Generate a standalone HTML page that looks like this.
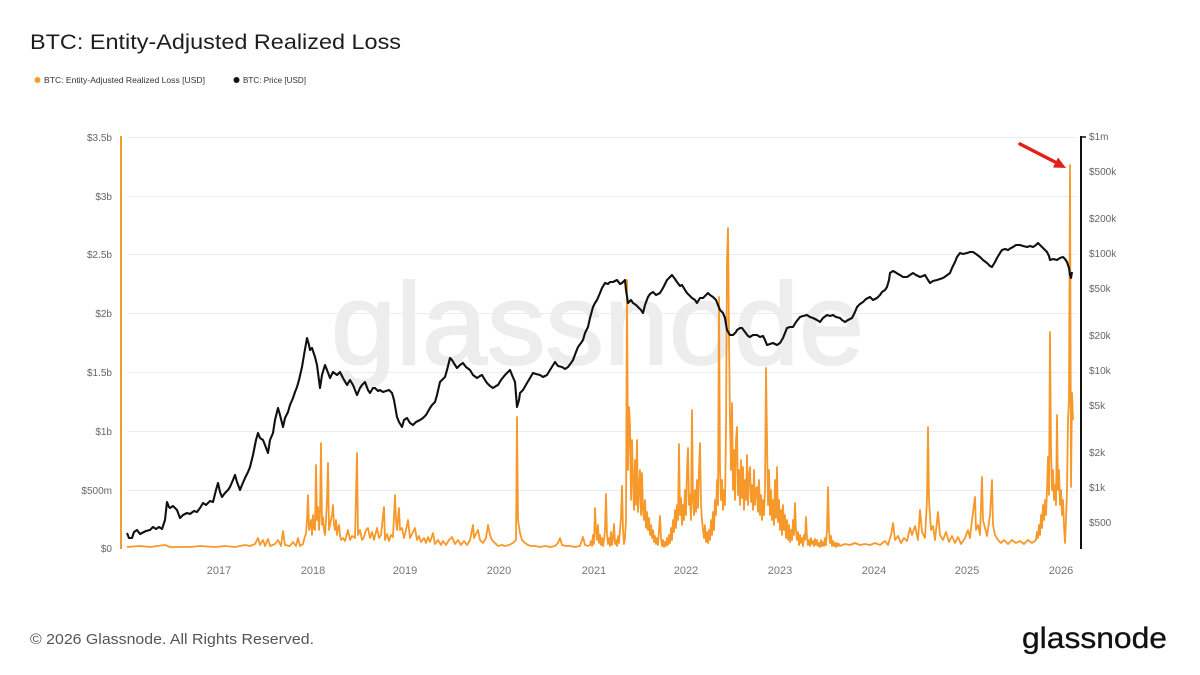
<!DOCTYPE html>
<html><head><meta charset="utf-8"><style>
html,body{margin:0;padding:0;background:#fff;}
svg{display:block;}
text{font-family:"Liberation Sans",sans-serif;}
</style></head><body>
<svg width="1200" height="675" viewBox="0 0 1200 675" xmlns="http://www.w3.org/2000/svg">
<rect width="1200" height="675" fill="#fff"/>
<text x="30" y="49" font-size="21" fill="#1e1e1e" textLength="371" lengthAdjust="spacingAndGlyphs">BTC: Entity-Adjusted Realized Loss</text>
<circle cx="37.5" cy="80" r="3" fill="#f39c2b"/>
<text x="44" y="83" font-size="8.5" fill="#333" textLength="161" lengthAdjust="spacingAndGlyphs">BTC: Entity-Adjusted Realized Loss [USD]</text>
<circle cx="236.5" cy="80" r="3" fill="#111"/>
<text x="243" y="83" font-size="8.5" fill="#333" textLength="63" lengthAdjust="spacingAndGlyphs">BTC: Price [USD]</text>

<!-- watermark -->
<text x="331" y="364" font-size="116" fill="#ededed" stroke="#ededed" stroke-width="2" stroke-linejoin="round" textLength="533" lengthAdjust="spacingAndGlyphs">glassnode</text>

<!-- gridlines -->
<g stroke="#e6edf3" stroke-width="1">
<line x1="127" y1="137.5" x2="1076" y2="137.5"/>
<line x1="127" y1="196.5" x2="1076" y2="196.5"/>
<line x1="127" y1="254.5" x2="1076" y2="254.5"/>
<line x1="127" y1="313.5" x2="1076" y2="313.5"/>
<line x1="127" y1="372.5" x2="1076" y2="372.5"/>
<line x1="127" y1="431.5" x2="1076" y2="431.5"/>
<line x1="127" y1="490.5" x2="1076" y2="490.5"/>
</g>

<!-- left axis labels -->
<g font-size="10" fill="#666" text-anchor="end">
<text x="112" y="141">$3.5b</text>
<text x="112" y="200">$3b</text>
<text x="112" y="258">$2.5b</text>
<text x="112" y="317">$2b</text>
<text x="112" y="376">$1.5b</text>
<text x="112" y="435">$1b</text>
<text x="112" y="494">$500m</text>
<text x="112" y="552">$0</text>
</g>
<!-- right axis labels -->
<g font-size="10" fill="#666">
<text x="1089" y="140">$1m</text>
<text x="1089" y="175">$500k</text>
<text x="1089" y="222">$200k</text>
<text x="1089" y="257">$100k</text>
<text x="1089" y="292">$50k</text>
<text x="1089" y="339">$20k</text>
<text x="1089" y="374">$10k</text>
<text x="1089" y="409">$5k</text>
<text x="1089" y="456">$2k</text>
<text x="1089" y="491">$1k</text>
<text x="1089" y="526">$500</text>
</g>
<!-- x labels -->
<g font-size="11" fill="#777" text-anchor="middle">
<text x="219" y="574">2017</text>
<text x="313" y="574">2018</text>
<text x="405" y="574">2019</text>
<text x="499" y="574">2020</text>
<text x="594" y="574">2021</text>
<text x="686" y="574">2022</text>
<text x="780" y="574">2023</text>
<text x="874" y="574">2024</text>
<text x="967" y="574">2025</text>
<text x="1061" y="574">2026</text>
</g>

<!-- axes -->
<line x1="121" y1="136" x2="121" y2="549" stroke="#f39c2b" stroke-width="2"/>
<line x1="1081" y1="136" x2="1081" y2="549" stroke="#111" stroke-width="2"/>
<line x1="1081" y1="137" x2="1086" y2="137" stroke="#111" stroke-width="1.5"/>

<!-- orange series -->
<polyline fill="none" stroke="#f7982a" stroke-width="1.8" stroke-linejoin="round" points="127,547 140,546 150,547 165,545 170,547 190,547 200,546 215,547 225,546 235,547 245,545 250,546 255,544 258,538 260,545 263,540 265,546 268,539 270,546 275,544 278,540 281,546 283,531 285,545 290,546 293,542 296,546 298,538 300,546 303,544 304,540 305,536 306,534 307,520 308,495 309,530 310,525 311,520 312,535 313,515 314,528 315,530 316,465 317,520 318,507 319,530 320,512 321,443 322,525 323,517 324,530 325,535 326,520 327,500 328,463 329,530 330,525 331,520 332,515 333,505 334,525 335,530 336,520 337,535 338,528 339,525 340,535 341,540 343,538 345,541 348,530 350,540 352,536 355,538 357,453 358,535 360,530 362,540 364,537 366,530 368,528 370,538 372,532 374,540 377,528 379,538 381,535 384,507 385,540 387,534 389,541 391,535 393,537 395,495 396,520 397,530 399,508 400,530 402,528 404,538 406,530 408,520 410,538 412,534 415,528 417,540 419,536 421,542 424,538 426,543 428,537 430,542 433,533 435,544 438,540 441,545 443,541 446,545 449,540 452,537 455,544 458,540 461,545 464,541 467,545 470,540 473,525 474,538 476,534 478,530 480,540 483,543 486,538 488,525 490,535 492,540 495,543 498,546 502,545 505,546 509,545 513,543 516,540 517,417 518,520 520,533 522,540 525,543 528,545 531,546 535,546 540,547 545,546 550,547 555,546 558,543 560,538 562,545 566,546 570,546 575,547 580,546 583,537 585,545 588,546 590,545 591,541 592,546 593,535 594,544 595,508 596,530 597,540 598,525 599,543 600,535 601,545 602,538 603,546 604,540 605,530 606,494 607,535 608,544 609,538 610,546 611,532 612,545 613,538 614,524 615,544 616,540 617,546 618,536 619,543 620,530 621,518 622,486 623,530 624,544 625,538 626,520 627,280 628,470 629,407 630,425 631,500 632,440 633,480 634,510 635,460 636,505 637,440 638,512 639,490 640,470 641,515 642,473 643,510 644,520 645,500 646,528 647,512 648,530 649,518 650,535 651,525 652,538 653,530 654,542 655,536 656,544 657,538 658,545 659,530 660,516 661,538 662,546 663,540 664,547 665,542 666,546 667,538 668,545 669,535 670,543 671,528 672,540 673,520 674,532 675,510 676,528 677,505 678,520 679,444 680,515 681,498 682,525 683,505 684,520 685,490 686,515 687,470 688,448 689,505 690,495 691,520 692,410 693,500 694,515 695,490 696,512 697,480 698,508 699,470 700,443 701,505 702,520 703,530 704,538 705,525 706,542 707,532 708,543 709,530 710,540 711,520 712,535 713,512 714,530 715,500 716,515 717,480 718,505 719,297 720,470 721,500 722,480 723,510 724,490 725,505 726,430 727,260 728,228 729,340 730,420 731,470 732,403 733,490 734,450 735,500 736,440 737,427 738,495 739,470 740,505 741,460 742,498 743,467 744,510 745,480 746,500 747,455 748,505 749,475 750,467 751,502 752,485 753,510 754,470 755,505 756,490 757,487 758,512 759,480 760,515 761,495 762,520 763,500 764,515 765,490 766,368 767,440 768,505 769,470 770,515 771,490 772,520 773,500 774,525 775,480 776,518 777,467 778,522 779,500 780,530 781,510 782,535 783,505 784,530 785,515 786,538 787,520 788,540 789,525 790,542 791,530 792,540 793,520 794,535 795,503 796,530 797,540 798,532 799,545 800,535 801,543 802,538 803,546 804,535 805,540 806,517 807,538 808,545 809,540 810,546 811,538 812,544 813,541 814,546 815,539 816,545 817,540 818,546 819,543 820,547 821,540 822,546 823,542 824,546 825,538 826,545 827,530 828,487 829,530 830,543 831,536 832,546 833,541 834,546 835,543 836,547 837,543 838,546 839,544 840,546 845,544 850,545 855,543 860,545 865,544 870,545 875,543 880,545 885,541 888,545 891,535 893,523 895,540 898,536 901,543 904,538 907,541 910,528 912,535 915,526 918,540 920,510 922,532 925,538 927,500 928,427 929,500 931,530 933,526 935,540 938,512 940,535 943,540 946,532 949,542 952,536 955,543 958,537 961,544 965,538 968,530 970,538 972,520 975,497 976,530 978,525 980,535 982,477 983,520 985,528 987,536 990,515 992,480 993,525 995,535 998,540 1001,543 1004,540 1008,544 1012,540 1016,543 1020,541 1024,544 1028,540 1032,543 1036,540 1037,532 1038,538 1039,525 1040,535 1041,515 1042,528 1043,505 1044,520 1045,500 1046,515 1047,490 1048,457 1049,495 1050,332 1051,450 1052,490 1053,470 1054,500 1055,485 1056,505 1057,415 1058,490 1059,470 1060,505 1061,490 1062,515 1063,500 1064,525 1065,543 1066,520 1067,490 1068,420 1069,400 1070,165 1071,487 1072,393 1073,420"/>

<!-- price series -->
<polyline fill="none" stroke="#111" stroke-width="2.1" stroke-linejoin="round" points="127,533 129,538 132,538 134,532 137,530 140,534 142,533 146,531 150,530 153,527 156,529 159,527 162,529 165,520 167,502 169,507 170,508 173,506 177,510 180,518 183,515 187,513 190,514 194,511 197,512 200,508 203,503 206,505 210,501 213,502 216,490 218,483 220,492 222,497 225,493 228,490 230,487 233,480 235,475 237,482 240,490 242,485 245,478 248,472 250,467 253,455 256,440 258,433 260,438 263,440 265,445 268,453 270,440 273,433 275,420 278,408 280,415 283,427 285,418 288,412 290,405 293,398 295,392 297,387 299,380 302,367 304,355 307,338 309,345 310,350 312,348 315,357 317,365 320,388 322,375 325,365 327,370 330,378 333,372 337,375 340,372 343,378 347,385 350,380 353,385 355,390 357,395 360,388 362,385 365,382 368,390 370,393 373,388 375,388 378,391 380,390 383,392 386,391 389,390 392,393 394,400 397,417 399,422 402,427 404,420 407,418 410,423 413,425 416,422 420,420 423,418 426,415 430,408 432,405 435,402 437,395 440,382 442,380 445,377 447,370 450,358 452,360 455,365 457,368 460,365 463,363 466,367 470,370 473,375 477,378 480,376 482,375 485,380 487,383 490,386 493,388 496,386 498,385 501,380 505,375 508,372 510,370 512,375 515,382 517,407 519,400 520,393 523,390 527,383 530,378 533,373 536,374 540,375 543,377 547,375 550,370 555,362 558,366 562,367 565,369 568,367 571,363 573,360 576,352 578,347 581,343 583,340 585,333 588,327 590,318 593,307 595,303 597,300 600,293 602,288 605,283 608,284 610,282 613,282 617,280 620,284 622,283 625,280 626,290 628,303 631,300 633,303 636,305 638,307 641,310 643,313 645,305 648,297 650,294 653,292 656,295 660,293 663,288 667,280 670,277 672,275 675,279 677,282 680,286 682,285 685,290 687,293 690,296 692,298 695,300 697,303 700,298 703,298 705,296 708,293 710,295 713,297 716,300 718,305 720,310 723,313 725,318 727,330 730,335 733,335 736,332 737,330 740,328 742,328 745,332 748,336 750,337 753,335 757,335 760,337 763,336 765,340 767,345 770,344 773,343 777,345 780,343 783,338 787,328 790,327 793,327 796,322 800,317 803,316 807,315 810,317 813,318 817,320 820,322 823,318 827,315 830,316 833,315 836,317 840,318 842,320 845,322 848,320 852,318 855,312 857,307 860,304 863,302 866,299 870,297 873,300 877,298 880,295 882,292 885,290 887,287 889,280 890,273 893,271 895,272 898,274 900,275 903,277 907,277 910,275 913,273 916,275 920,277 923,276 925,275 928,280 930,283 933,281 937,280 940,279 943,278 946,276 950,273 952,268 955,262 957,257 960,253 963,254 967,253 970,252 973,252 976,254 980,257 983,260 987,263 990,266 992,267 995,262 997,258 1000,253 1002,250 1005,249 1008,250 1011,248 1013,247 1016,245 1020,245 1023,246 1027,247 1030,246 1033,247 1036,245 1038,243 1040,245 1043,248 1045,250 1047,252 1049,256 1050,260 1053,259 1057,260 1060,258 1063,257 1065,259 1067,262 1069,268 1070,275 1071,278 1072,272"/>

<!-- red arrow -->
<line x1="1020" y1="144" x2="1057" y2="163" stroke="#e3201b" stroke-width="3.5" stroke-linecap="round"/>
<polygon points="1066,168 1053,167.5 1058,157.5" fill="#e3201b"/>

<!-- footer -->
<text x="30" y="644" font-size="15" fill="#555" textLength="284" lengthAdjust="spacingAndGlyphs">© 2026 Glassnode. All Rights Reserved.</text>
<text x="1022" y="648" font-size="30" fill="#111" stroke="#111" stroke-width="0.3" textLength="145" lengthAdjust="spacingAndGlyphs">glassnode</text>
</svg>
</body></html>
